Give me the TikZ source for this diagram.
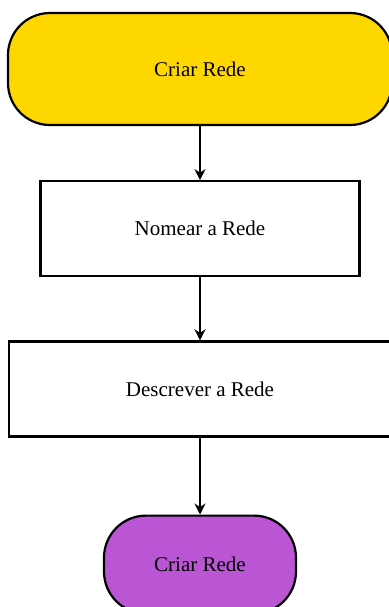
\documentclass[tikz,border=0pt]{standalone}
\usepackage{fontspec}
\setmainfont{Liberation Serif}
\usetikzlibrary{positioning,arrows.meta}

\tikzset{
  terminal/.style={draw, line width=2.2pt, rounded corners=42pt, inner sep=0pt,
    font=\fontsize{21}{25}\selectfont},
  procbox/.style={draw, line width=2.2pt, inner sep=0pt, minimum height=95pt,
    font=\fontsize{21}{25}\selectfont},
  flow/.style={line width=2.2pt, -{Stealth[length=11pt,width=11pt]}}
}

\begin{document}
\begin{tikzpicture}
  \useasboundingbox (0pt,0pt) rectangle (388pt,-607pt);
  % start
  \node[terminal, fill={rgb,255:red,255;green,215;blue,0}, minimum width=384pt, minimum height=112pt]
    (start) at (200pt,-69pt) {Criar Rede};
  \node[procbox, minimum width=319pt, below=54pt of start] (nomear) {Nomear a Rede};
  \node[procbox, minimum width=382pt, below=63pt of nomear] (descrever) {Descrever a Rede};
  % end
  \node[terminal, fill={rgb,255:red,186;green,85;blue,211}, minimum width=192pt, minimum height=98pt,
    below=77pt of descrever] (fim) {Criar Rede};

  \draw[flow] (start) -- (nomear);
  \draw[flow] (nomear) -- (descrever);
  \draw[flow] (descrever) -- (fim);
\end{tikzpicture}
\end{document}
